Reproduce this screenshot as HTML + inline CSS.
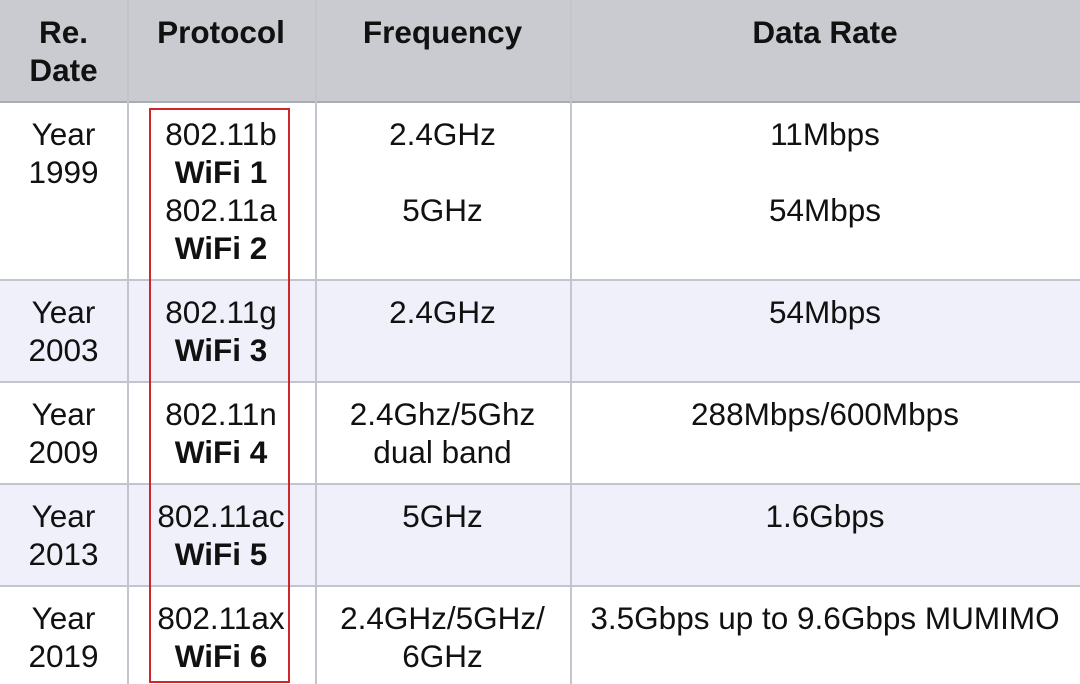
<!DOCTYPE html>
<html><head><meta charset="utf-8"><style>
body{margin:0;width:1080px;height:684px;overflow:hidden;background:#fff;font-family:"Liberation Sans",sans-serif;color:#111;}
.c{position:absolute;text-align:center;font-size:31.5px;line-height:38px;white-space:nowrap;}
.b{font-weight:bold;}
.row{position:absolute;left:0;width:1080px;}
.v{position:absolute;top:0;width:1.5px;height:684px;background:#c4c5cc;}
.h{position:absolute;left:0;width:1080px;height:1.5px;background:#c4c5cc;}
</style></head><body>
<div class="row" style="top:0;height:101px;background:#c9cbd0;"></div>
<div class="row" style="top:280px;height:102px;background:#f0f0fa;"></div>
<div class="row" style="top:484px;height:102px;background:#f0f0fa;"></div>
<div class="h" style="top:101px;background:#a9abb2"></div>
<div class="h" style="top:279px"></div><div class="h" style="top:381px"></div><div class="h" style="top:483px"></div><div class="h" style="top:585px"></div>
<div class="v" style="left:127px"></div><div class="v" style="left:315px"></div><div class="v" style="left:570px"></div>

<div class="c b" style="left:0;width:127px;top:13px;">Re.<br>Date</div>
<div class="c b" style="left:127px;width:188px;top:13px;">Protocol</div>
<div class="c b" style="left:315px;width:255px;top:13px;">Frequency</div>
<div class="c b" style="left:570px;width:510px;top:13px;">Data Rate</div>

<div class="c" style="left:0;width:127px;top:115px;">Year<br>1999</div>
<div class="c" style="left:127px;width:188px;top:115px;">802.11b<br><b>WiFi 1</b><br>802.11a<br><b>WiFi 2</b></div>
<div class="c" style="left:315px;width:255px;top:115px;">2.4GHz<br><br>5GHz</div>
<div class="c" style="left:570px;width:510px;top:115px;">11Mbps<br><br>54Mbps</div>

<div class="c" style="left:0;width:127px;top:293px;">Year<br>2003</div>
<div class="c" style="left:127px;width:188px;top:293px;">802.11g<br><b>WiFi 3</b></div>
<div class="c" style="left:315px;width:255px;top:293px;">2.4GHz</div>
<div class="c" style="left:570px;width:510px;top:293px;">54Mbps</div>

<div class="c" style="left:0;width:127px;top:395px;">Year<br>2009</div>
<div class="c" style="left:127px;width:188px;top:395px;">802.11n<br><b>WiFi 4</b></div>
<div class="c" style="left:315px;width:255px;top:395px;">2.4Ghz/5Ghz<br>dual band</div>
<div class="c" style="left:570px;width:510px;top:395px;">288Mbps/600Mbps</div>

<div class="c" style="left:0;width:127px;top:497px;">Year<br>2013</div>
<div class="c" style="left:127px;width:188px;top:497px;">802.11ac<br><b>WiFi 5</b></div>
<div class="c" style="left:315px;width:255px;top:497px;">5GHz</div>
<div class="c" style="left:570px;width:510px;top:497px;">1.6Gbps</div>

<div class="c" style="left:0;width:127px;top:599px;">Year<br>2019</div>
<div class="c" style="left:127px;width:188px;top:599px;">802.11ax<br><b>WiFi 6</b></div>
<div class="c" style="left:315px;width:255px;top:599px;">2.4GHz/5GHz/<br>6GHz</div>
<div class="c" style="left:570px;width:510px;top:599px;">3.5Gbps up to 9.6Gbps MUMIMO</div>

<div style="position:absolute;left:149px;top:108px;width:137px;height:571px;border:2.5px solid #d0262a;"></div>
</body></html>
